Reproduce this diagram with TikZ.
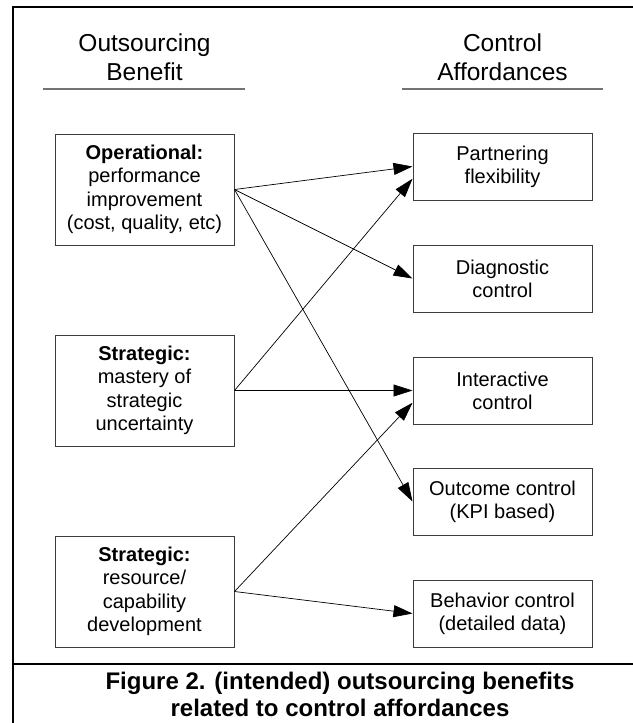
\documentclass[tikz,border=0pt]{standalone}
\usepackage{fontspec}
\setmainfont{Liberation Sans}
\usetikzlibrary{arrows.meta,calc}
\definecolor{boxline}{RGB}{60,60,60}
\definecolor{rulegray}{RGB}{115,115,115}
\begin{document}
\begin{tikzpicture}[x=1pt,y=-1pt,
  benefit/.style={draw=boxline,line width=1pt,minimum width=179pt,minimum height=111pt,
    inner sep=0pt,align=center,font=\fontsize{20}{23.5}\selectfont},
  affordance/.style={draw=boxline,line width=1pt,minimum width=179pt,minimum height=67pt,
    inner sep=0pt,align=center,font=\fontsize{20}{23}\selectfont},
  header/.style={align=center,inner sep=0pt,font=\fontsize{24.5}{29}\selectfont},
  link/.style={line width=0.7pt,-{Triangle[length=19pt,width=12pt]}},
  frame/.style={line width=2pt,black}]
\useasboundingbox (0,0) rectangle (632,723);

% outer frame and caption separator
\draw[frame] (13,723) -- (13,7) -- (640,7);
\draw[frame] (13,664) -- (640,664);

% column headers
\node[header] (hl) at (144.5,57.5) {Outsourcing\\Benefit};
\node[header] (hr) at (502.5,57.5) {Control\\Affordances};
\draw[rulegray,line width=1.5pt] (43,89) -- (245,89);
\draw[rulegray,line width=1.5pt] (402,89) -- (603,89);

% outsourcing benefits
\node[benefit] (op)  at (144.5,189.5) {\textbf{Operational:}\\performance\\improvement\\(cost, quality, etc)};
\node[benefit] (ms)  at (144.5,390.5) {\textbf{Strategic:}\\mastery of\\strategic\\uncertainty};
\node[benefit] (rc)  at (144.5,591.5) {\textbf{Strategic:}\\resource/\\capability\\development};

% control affordances
\node[affordance] (pf) at (502.5,166.5) {Partnering\\flexibility};
\node[affordance] (dc) at (502.5,278.5) {Diagnostic\\control};
\node[affordance] (ic) at (502.5,390.5) {Interactive\\control};
\node[affordance] (oc) at (502.5,501.5) {Outcome control\\(KPI based)};
\node[affordance] (bc) at (502.5,613.5) {Behavior control\\(detailed data)};

% links
\draw[link] (op.east) -- (pf.west);
\draw[link] (op.east) -- (dc.west);
\draw[link] (op.east) -- (oc.west);
\draw[link] (ms.east) -- ($(pf.south west)!0.32!(pf.north west)$);
\draw[link] (ms.east) -- (ic.west);
\draw[link] (rc.east) -- ($(ic.south west)!0.32!(ic.north west)$);
\draw[link] (rc.east) -- (bc.west);

% caption
\node[align=center,inner sep=0pt,font=\bfseries\fontsize{24}{27}\selectfont] (cap) at (340,694.5)
  {Figure 2. (intended) outsourcing benefits\\related to control affordances};
\end{tikzpicture}
\end{document}
